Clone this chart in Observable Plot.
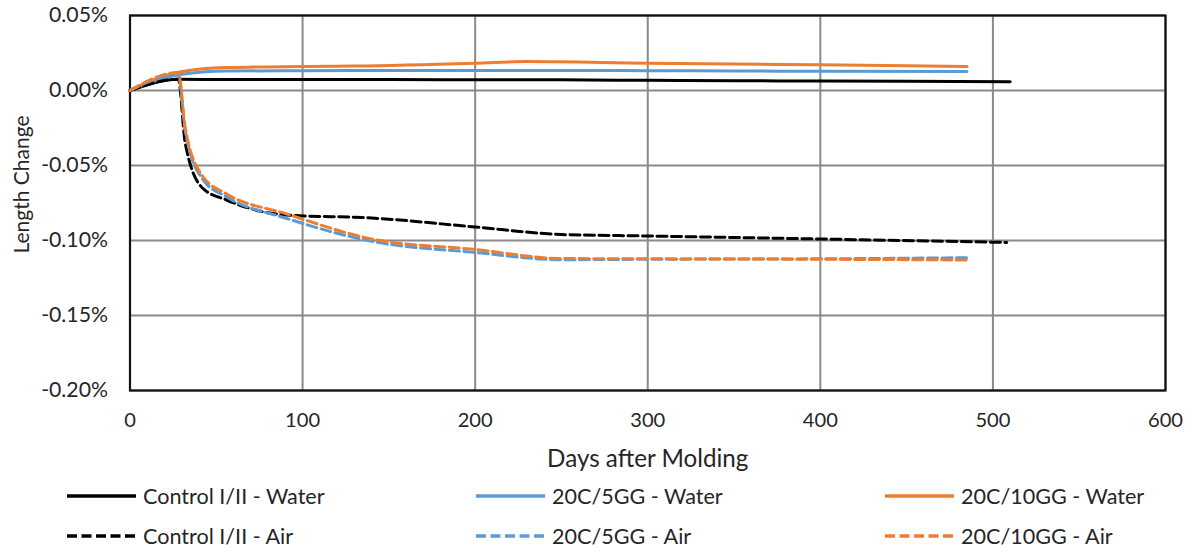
<!DOCTYPE html>
<html>
<head>
<meta charset="utf-8">
<script src="https://cdn.jsdelivr.net/npm/d3@7"></script>
<script src="https://cdn.jsdelivr.net/npm/@observablehq/plot@0.6"></script>
<style>
  html, body { margin: 0; padding: 0; background: #fff; }
  body { width: 1193px; height: 552px; position: relative; overflow: hidden; font-family: Lato, "Open Sans", sans-serif; color: #262626; }
  #chart svg { display: block; }
  .leg { position: absolute; display: flex; align-items: center; white-space: nowrap; height: 30px; }
  .leg svg { display: block; }
  .leg span { position: absolute; }
</style>
</head>
<body>
<div id="chart"></div>
<div id="legend"></div>
<script>
// Series (days after molding, length change in %)
const ctrlWaterDays = [0, 28, 60, 100, 150, 200, 250, 300, 350, 400, 450, 510];
const ctrlWaterVals = [0, 0.0075, 0.0073, 0.0073, 0.0073, 0.0072, 0.0071, 0.0068, 0.0065, 0.0063, 0.0061, 0.0058];

const c5WaterDays = [0, 28, 56, 100, 150, 200, 250, 300, 350, 400, 485];
const c5WaterVals = [0, 0.0105, 0.013, 0.0132, 0.0133, 0.0134, 0.0134, 0.0132, 0.013, 0.0128, 0.0126];

const c10WaterDays = [0, 28, 56, 100, 130, 200, 230, 300, 350, 400, 485];
const c10WaterVals = [0, 0.0122, 0.0153, 0.016, 0.0163, 0.0182, 0.0193, 0.0182, 0.0176, 0.0171, 0.016];

const ctrlAirDays = [0, 28, 32, 42, 56, 90, 140, 200, 250, 300, 400, 508];
const ctrlAirVals = [0, 0.0075, -0.035, -0.065, -0.073, -0.083, -0.085, -0.091, -0.096, -0.097, -0.099, -0.1013];

const c5AirDays = [0, 28, 32, 42, 56, 90, 140, 200, 250, 300, 400, 485];
const c5AirVals = [0, 0.0105, -0.027, -0.059, -0.071, -0.085, -0.1005, -0.108, -0.1128, -0.1125, -0.1122, -0.1115];

const c10AirDays = [0, 28, 32, 42, 56, 90, 140, 200, 250, 300, 400, 485];
const c10AirVals = [0, 0.012, -0.025, -0.057, -0.069, -0.082, -0.099, -0.106, -0.112, -0.1122, -0.1125, -0.113];

const seriesNames = ["Control I/II - Water", "20C/5GG - Water", "20C/10GG - Water",
                     "Control I/II - Air", "20C/5GG - Air", "20C/10GG - Air"];
const seriesColors = ["#000000", "#5B9BD5", "#ED7D31", "#000000", "#5B9BD5", "#ED7D31"];
const seriesDashed = [false, false, false, true, true, true];

const xTicks = [0, 100, 200, 300, 400, 500, 600];
const yTicks = [0.05, 0.00, -0.05, -0.10, -0.15, -0.20];
const xTitle = "Days after Molding";
const yTitle = "Length Change";

// text fitting (match reference text widths)
const FONT = "Lato";
const ctx = document.createElement("canvas").getContext("2d");
function fit(text, target) {
  ctx.font = `100px ${FONT}`;
  return 100 * target / ctx.measureText(text).width;
}
const yTickSize = fit("0.05%", 59);
const xTickSize = fit("100", 35);
const xTitleSize = fit(xTitle, 202);
const yTitleSize = fit(yTitle, 138);
const legendSize = fit("Control I/II - Water", 182);

const seriesData = [
  [ctrlWaterDays, ctrlWaterVals], [c5WaterDays, c5WaterVals], [c10WaterDays, c10WaterVals],
  [ctrlAirDays, ctrlAirVals], [c5AirDays, c5AirVals], [c10AirDays, c10AirVals]
].map(([d, v]) => d.map((x, i) => ({x, y: v[i]})));

const DASH = "10,4.5";
const lineMarks = seriesData.map((data, i) => Plot.line(data, {
  x: "x", y: "y", stroke: seriesColors[i], strokeWidth: 3,
  strokeDasharray: seriesDashed[i] ? DASH : null,
  curve: "monotone-x"
}));

const chart = Plot.plot({
  width: 1193,
  height: 475,
  marginTop: 15,
  marginLeft: 129.5,
  marginRight: 28,
  marginBottom: 85,
  style: { fontFamily: "Lato, 'Open Sans', sans-serif", color: "#262626", background: "#fff" },
  x: { domain: [0, 600] },
  y: { domain: [-0.20, 0.05] },
  marks: [
    Plot.gridX(xTicks, { stroke: "#8a8a8a", strokeOpacity: 1, strokeWidth: 2 }),
    Plot.gridY(yTicks, { stroke: "#8a8a8a", strokeOpacity: 1, strokeWidth: 2 }),
    Plot.frame({ stroke: "#111", strokeWidth: 2.2 }),
    Plot.axisX(xTicks, { tickSize: 0, tickPadding: 22, fontSize: xTickSize, label: null }),
    Plot.axisY(yTicks, { tickSize: 0, tickPadding: 22, fontSize: yTickSize, tickFormat: d => d.toFixed(2) + "%", label: null }),
    Plot.text([xTitle], { text: d => d, frameAnchor: "bottom", textAnchor: "middle", lineAnchor: "middle", dy: 69, fontSize: xTitleSize, fill: "#262626" }),
    Plot.text([yTitle], { text: d => d, frameAnchor: "left", textAnchor: "middle", lineAnchor: "middle", rotate: -90, dx: -107.5, dy: -18.5, fontSize: yTitleSize, fill: "#262626" }),
    ...lineMarks
  ]
});
document.getElementById("chart").appendChild(chart);

// Legend
const legendLineX = [67, 476, 885];
const legendRowY = [496, 536];
const legend = document.getElementById("legend");
seriesNames.forEach((name, i) => {
  const col = i % 3, row = Math.floor(i / 3);
  const div = document.createElement("div");
  div.className = "leg";
  div.style.left = legendLineX[col] + "px";
  div.style.top = (legendRowY[row] - 15) + "px";
  div.style.fontSize = legendSize + "px";
  const w = 69;
  div.innerHTML = `<svg width="${w}" height="10"><line x1="0" x2="${w}" y1="5" y2="5" stroke="${seriesColors[i]}" stroke-width="3.3" ${seriesDashed[i] ? `stroke-dasharray="${DASH}"` : ''}/></svg><span style="left:${w + 7}px">${name}</span>`;
  legend.appendChild(div);
});
</script>
</body>
</html>
